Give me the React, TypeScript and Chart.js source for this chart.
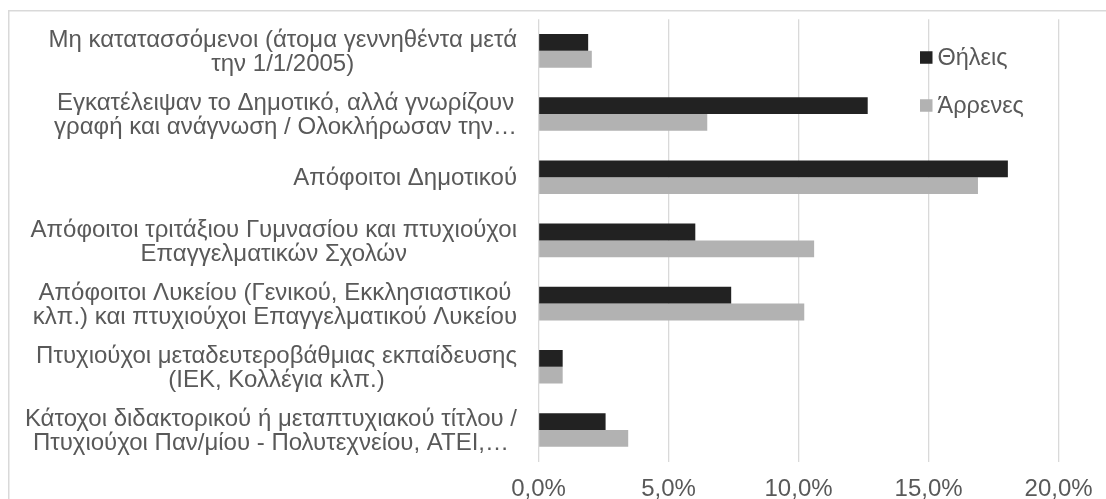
import React, { useEffect, useRef } from "react";
import { Chart, registerables } from "chart.js";

Chart.register(...registerables);

const categories: string[][] = [
  ["Μη κατατασσόμενοι (άτομα γεννηθέντα μετά", "την 1/1/2005)"],
  ["Εγκατέλειψαν το Δημοτικό, αλλά γνωρίζουν", "γραφή και ανάγνωση / Ολοκλήρωσαν την…"],
  ["Απόφοιτοι Δημοτικού"],
  ["Απόφοιτοι τριτάξιου Γυμνασίου και πτυχιούχοι", "Επαγγελματικών Σχολών"],
  ["Απόφοιτοι Λυκείου (Γενικού, Εκκλησιαστικού", "κλπ.) και πτυχιούχοι Επαγγελματικού Λυκείου"],
  ["Πτυχιούχοι μεταδευτεροβάθμιας εκπαίδευσης", "(ΙΕΚ, Κολλέγια κλπ.)"],
  ["Κάτοχοι διδακτορικού ή μεταπτυχιακού τίτλου /", "Πτυχιούχοι Παν/μίου - Πολυτεχνείου, ΑΤΕΙ,…"],
];

const seriesNames = ["Θήλεις", "Άρρενες"];
const femaleValues = [1.91, 12.66, 18.05, 6.03, 7.41, 0.93, 2.58];
const maleValues = [2.05, 6.49, 16.9, 10.6, 10.22, 0.93, 3.45];
const xTickValues = [0, 5, 10, 15, 20];

const FONT = '"Liberation Sans", Arial, sans-serif';
const TEXT_COLOR = "#595959";
const GRID_COLOR = "#d9d9d9";
const COLORS = ["#222222", "#b2b2b2"];

const formatPct = (v: number) => v.toFixed(1).replace(".", ",") + "%";

const framePlugin = {
  id: "frame",
  beforeDraw(chart: any) {
    const ctx = chart.ctx;
    ctx.save();
    ctx.fillStyle = "#ffffff";
    ctx.fillRect(0, 0, chart.width, chart.height);
    ctx.strokeStyle = GRID_COLOR;
    ctx.lineWidth = 1.5;
    ctx.strokeRect(8.75, 10.75, chart.width + 50, chart.height + 50);
    ctx.restore();
  },
};

const categoryLabelPlugin = {
  id: "categoryLabels",
  afterDraw(chart: any) {
    const ctx = chart.ctx;
    const yScale = chart.scales.y;
    const right = chart.chartArea.left - 21.5;
    const lineH = 24;
    ctx.save();
    ctx.font = `24px ${FONT}`;
    ctx.fillStyle = TEXT_COLOR;
    ctx.textAlign = "center";
    ctx.textBaseline = "middle";
    categories.forEach((lines, i) => {
      const cy = yScale.getPixelForValue(i) + 1.5;
      const maxW = Math.max(...lines.map((l) => ctx.measureText(l).width));
      const cx = right - maxW / 2;
      lines.forEach((l, j) => {
        ctx.fillText(l, cx, cy + (j - (lines.length - 1) / 2) * lineH);
      });
    });
    ctx.restore();
  },
};

const legendPlugin = {
  id: "innerLegend",
  afterDraw(chart: any) {
    const ctx = chart.ctx;
    const x0 = chart.chartArea.left + 381.5;
    const y0 = chart.chartArea.top + 38;
    const rowH = 48;
    ctx.save();
    ctx.font = `23.5px ${FONT}`;
    ctx.textAlign = "left";
    ctx.textBaseline = "middle";
    chart.data.datasets.forEach((ds: any, i: number) => {
      const cy = y0 + i * rowH;
      ctx.fillStyle = ds.backgroundColor;
      ctx.fillRect(x0, cy - 6, 12.5, 12.5);
      ctx.fillStyle = TEXT_COLOR;
      ctx.fillText(ds.label, x0 + 17.5, cy + 1);
    });
    ctx.restore();
  },
};

export default function App() {
  const canvasRef = useRef<HTMLCanvasElement | null>(null);

  useEffect(() => {
    if (!canvasRef.current) return;
    const chart = new Chart(canvasRef.current, {
      type: "bar",
      data: {
        labels: categories.map((c) => c.join(" ")),
        datasets: [
          { label: seriesNames[0], data: femaleValues, backgroundColor: COLORS[0] },
          { label: seriesNames[1], data: maleValues, backgroundColor: COLORS[1] },
        ],
      },
      options: {
        indexAxis: "y",
        responsive: false,
        animation: false,
        devicePixelRatio: 1,
        layout: { padding: { left: 538.5, top: 19.25, right: 39.3, bottom: 2.8 } },
        datasets: { bar: { categoryPercentage: 0.532, barPercentage: 1 } },
        scales: {
          x: {
            min: 0,
            max: 20,
            afterBuildTicks: (scale: any) => {
              scale.ticks = xTickValues.map((v) => ({ value: v }));
            },
            ticks: {
              callback: (v: any) => formatPct(Number(v)),
              color: TEXT_COLOR,
              font: { family: FONT, size: 24 },
              padding: 13.4,
              maxRotation: 0,
            },
            grid: { color: GRID_COLOR, lineWidth: 1.3, drawTicks: false },
            border: { display: false },
          },
          y: {
            display: false,
          },
        },
        plugins: {
          legend: { display: false },
          tooltip: { enabled: false },
        },
      },
      plugins: [framePlugin, categoryLabelPlugin, legendPlugin],
    });
    return () => chart.destroy();
  }, []);

  return (
    <div
      style={{
        position: "absolute",
        left: 0,
        top: 0,
        width: 1106,
        height: 499,
        overflow: "hidden",
        background: "#ffffff",
      }}
    >
      <canvas ref={canvasRef} width={1106} height={520} style={{ display: "block" }} />
    </div>
  );
}
